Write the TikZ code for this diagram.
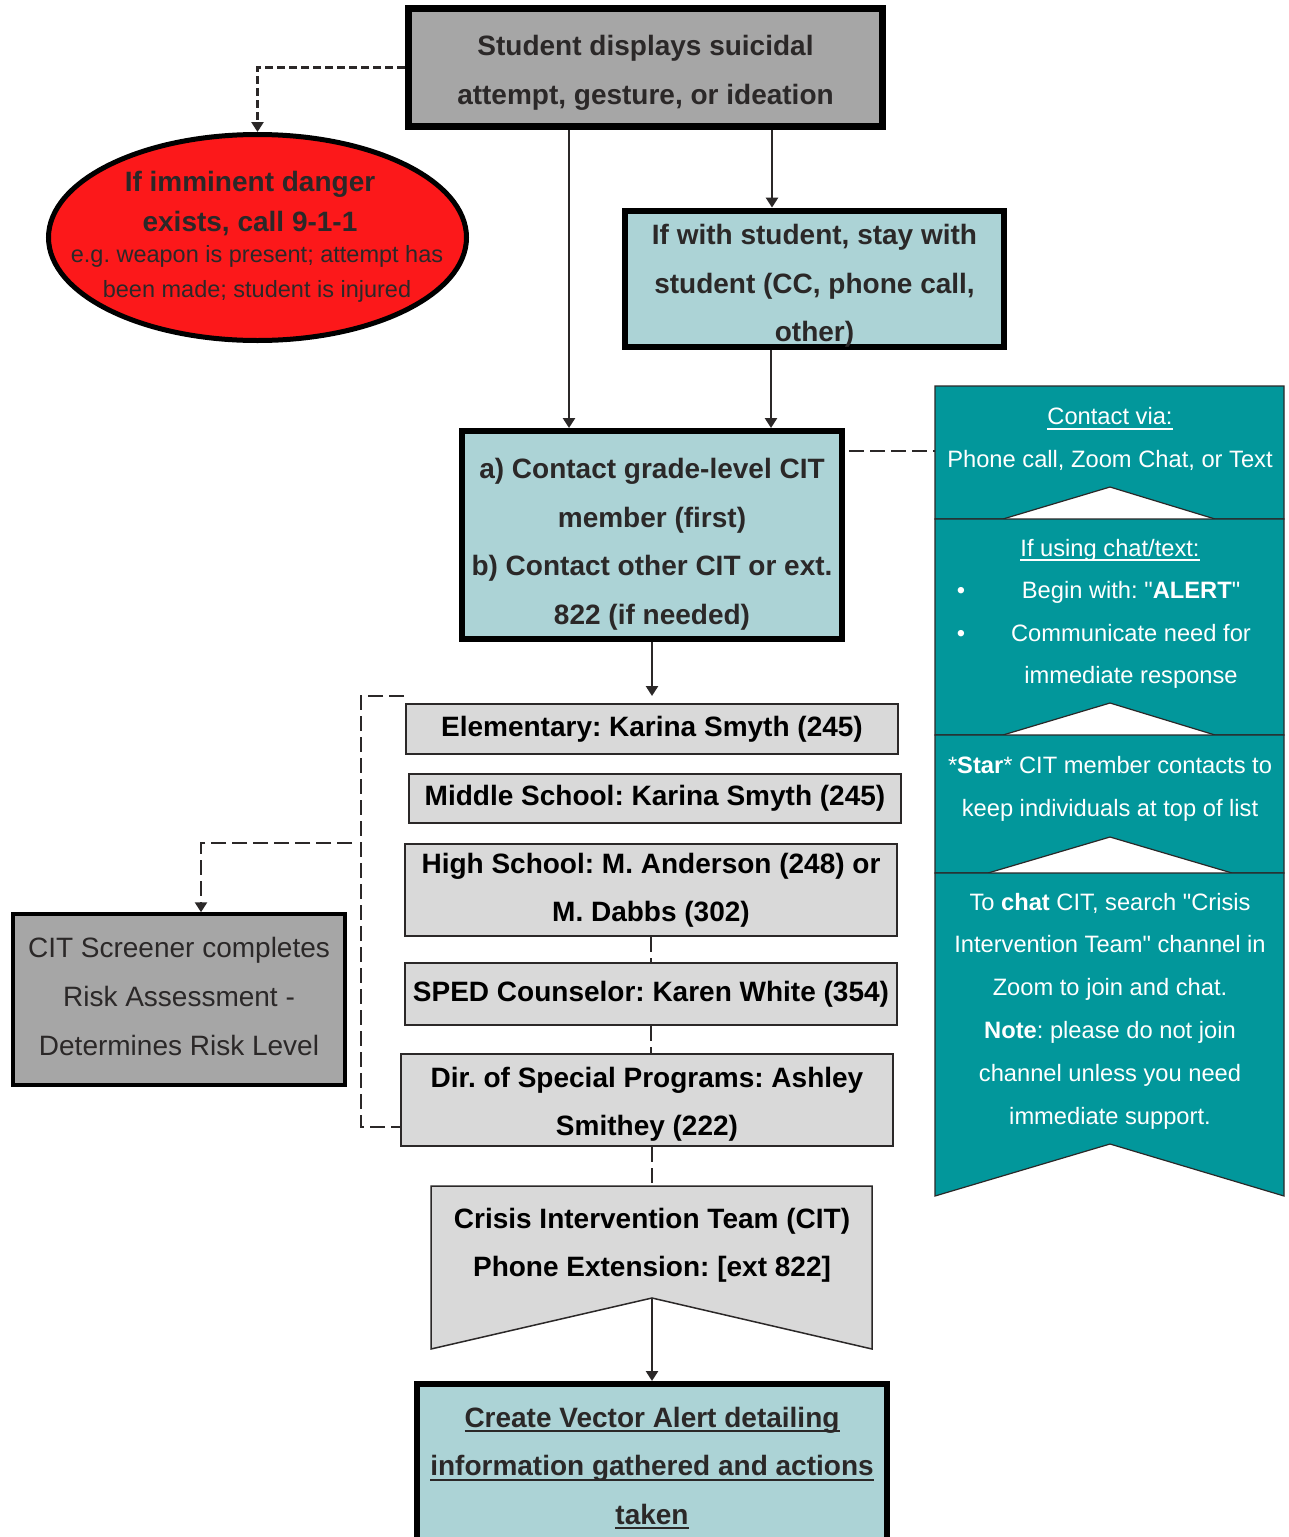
\documentclass[tikz,border=0pt]{standalone}
\usepackage{fontspec}
\setmainfont{Liberation Sans}
\usetikzlibrary{shapes.geometric,arrows.meta,positioning}
\definecolor{boxgray}{RGB}{166,166,166}
\definecolor{listgray}{RGB}{217,217,217}
\definecolor{paleteal}{RGB}{172,211,214}
\definecolor{panelteal}{RGB}{2,151,155}
\definecolor{alarmred}{RGB}{252,24,26}
\definecolor{ink}{RGB}{43,40,40}
\newsavebox\ulbox
\newcommand\undertext[1]{\sbox\ulbox{#1}\rlap{\rule[-5pt]{\wd\ulbox}{1.8pt}}\usebox\ulbox}
\newcommand\topgap[1]{\rule{0pt}{#1}}
\frenchspacing

\begin{document}
\begin{tikzpicture}[x=1pt,y=-1pt,
      heavy/.style={rectangle, draw=black, line width=7pt, inner sep=0pt, align=center, text=ink, font=\fontsize{28}{48.5}\selectfont\bfseries},
      listbox/.style={rectangle, draw=ink, line width=2pt, fill=listgray, inner sep=0pt, align=center, minimum width=492pt, font=\fontsize{28}{48.5}\selectfont\bfseries},
      paneltext/.style={align=center, text=white, inner sep=0pt, font=\fontsize{23.7}{42.8}\selectfont},
      panel/.style={fill=panelteal, draw=ink, line width=1.2pt},
      pfeil/.style={line width=2.5pt, draw=ink, -{Triangle[length=10pt,width=12pt]}},
      shortdash/.style={line width=2.5pt, draw=ink, dash pattern=on 8pt off 4pt},
      longdash/.style={line width=2.5pt, draw=ink, dash pattern=on 15pt off 6pt}]

\fill[white] (0,0) rectangle (1288,1537);
\useasboundingbox (0,0) rectangle (1288,1537);

\node[heavy, fill=boxgray, minimum width=474pt, minimum height=118pt] (alert) at (645.5,67.5) {\topgap{31pt}Student displays suicidal\\attempt, gesture, or ideation};

\node[ellipse, draw=black, line width=5pt, fill=alarmred, minimum width=418pt, minimum height=206pt, inner sep=0pt] (danger) at (257.5,237.5) {};
\node[align=center, inner sep=0pt, text=ink, font=\fontsize{28}{40}\selectfont\bfseries] (dangerhead) at (250,204) {If imminent danger\\exists, call 9-1-1};
\node[align=center, inner sep=0pt, text=ink, font=\fontsize{23.5}{35}\selectfont] (dangernote) at (257,274) {e.g. weapon is present; attempt has\\been made; student is injured};

\node[heavy, line width=6pt, fill=paleteal, minimum width=379pt, minimum height=136pt] (stay) at (814.5,279) {\topgap{34pt}If with student, stay with\\student (CC, phone call,\\other)};

\node[heavy, line width=6pt, fill=paleteal, minimum width=380pt, minimum height=208pt] (contact) at (652,535) {\topgap{39pt}a) Contact grade-level CIT\\member (first)\\b) Contact other CIT or ext.\\822 (if needed)};

% contact list
\node[listbox, minimum height=50pt] (elem) at (652,729) {Elementary: Karina Smyth (245)};
\node[listbox, minimum height=49pt] (middle) at (655,798.5) {Middle School: Karina Smyth (245)};
\node[listbox, minimum height=92pt] (high) at (651,890) {High School: M. Anderson (248) or\\M. Dabbs (302)};
\node[listbox, minimum height=62pt] (sped) at (651,994) {SPED Counselor: Karen White (354)};
\node[listbox, minimum height=92pt] (dir) at (647,1100) {\topgap{29pt}Dir. of Special Programs: Ashley\\Smithey (222)};

\node[rectangle, draw=black, line width=3.5pt, fill=boxgray, minimum width=332pt, minimum height=171pt, inner sep=0pt, align=center, text=ink, font=\fontsize{28}{49}\selectfont] (screen) at (179,999.5) {CIT Screener completes\\Risk Assessment -\\Determines Risk Level\rule[-7pt]{0pt}{7pt}};

% CIT banner
\coordinate (citTop) at (652,1186);
\coordinate (citNotch) at (652,1298);
\filldraw[fill=listgray, draw=ink, line width=1.5pt] (431,1186) -- (872,1186) -- (872,1349) -- (citNotch) -- (431,1349) -- cycle;
\node[align=center, inner sep=0pt, font=\fontsize{28}{48.5}\selectfont\bfseries] (cit) at (652,1245) {Crisis Intervention Team (CIT)\\Phone Extension: [ext 822]};

\node[heavy, line width=6pt, fill=paleteal, minimum width=470pt, minimum height=168pt] (vector) at (652,1468) {\undertext{Create Vector Alert detailing}\\\undertext{information gathered and actions}\\\undertext{taken}};

% side panel
\filldraw[panel] (935,386) -- (1284,386) -- (1284,519) -- (1215,519) -- (1110,487) -- (1003,519) -- (935,519) -- cycle;
\filldraw[panel] (935,519) -- (1284,519) -- (1284,735) -- (1215,735) -- (1110,703) -- (1003,735) -- (935,735) -- cycle;
\filldraw[panel] (935,735) -- (1284,735) -- (1284,873) -- (1232,873) -- (1110,837) -- (988,873) -- (935,873) -- cycle;
\filldraw[panel] (935,873) -- (1284,873) -- (1284,1196) -- (1110,1144) -- (935,1196) -- cycle;
\coordinate (panelW) at (935,451);

\node[paneltext] (via) at (1110,439) {\undertext{Contact via:}\\Phone call, Zoom Chat, or Text};
\node[paneltext, anchor=base] (chathead) at (1110,556) {\undertext{If using chat/text:}};
\node[paneltext] (chatlist) at (1131,635) {Begin with: \textquotedbl\textbf{ALERT}\textquotedbl\\Communicate need for\\immediate response};
\node[paneltext, anchor=base] (dotA) at (961,598) {\textbullet};
\node[paneltext, anchor=base] (dotB) at (961,641) {\textbullet};
\node[paneltext] (star) at (1110,789) {*\textbf{Star}* CIT member contacts to\\keep individuals at top of list};
\node[paneltext] (zoomchat) at (1110,1011) {To \textbf{chat} CIT, search \textquotedbl Crisis\\Intervention Team\textquotedbl\ channel in\\Zoom to join and chat.\\\textbf{Note}: please do not join\\channel unless you need\\immediate support.};

% connectors
\draw[shortdash, pfeil] (alert.west) -| (danger.north);
\draw[pfeil] ([xshift=-76.5pt]alert.south) -- ([xshift=-76.5pt]alert.south |- contact.north);
\draw[pfeil] ([xshift=126.5pt]alert.south) -- ([xshift=126.5pt]alert.south |- stay.north);
\draw[pfeil] ([xshift=-43.5pt]stay.south) -- ([xshift=-43.5pt]stay.south |- contact.north);
\draw[longdash] ([xshift=4pt]contact.east |- panelW) -- (panelW);

\coordinate (brtop) at (404,696);
\coordinate (brmid) at (352,843);
\draw[pfeil] (contact.south) -- (contact.south |- brtop);
\draw[longdash] (brtop) -| ([xshift=-39pt,yshift=-27pt]dir.west) -- ([yshift=-27pt]dir.west);
\draw[longdash, pfeil] (brmid) -| ([xshift=22pt]screen.north);
\draw[longdash] (high.south) -- (sped.north);
\draw[longdash] (sped.south) -- (sped.south |- dir.north);
\draw[longdash] (dir.south -| citTop) -- (citTop);
\draw[pfeil] (citNotch) -- (citNotch |- vector.north);

\end{tikzpicture}
\end{document}
